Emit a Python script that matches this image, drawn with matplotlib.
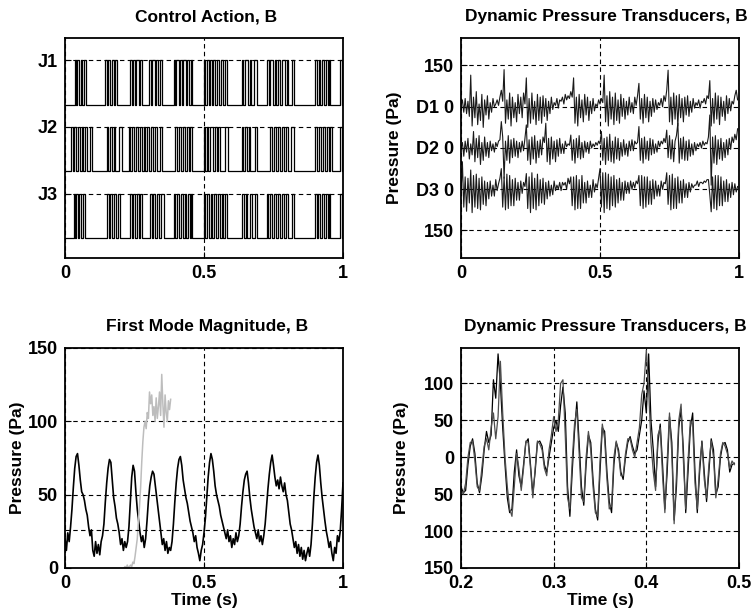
import matplotlib
matplotlib.use("Agg")
import matplotlib.pyplot as plt
import numpy as np

plt.rcParams["font.family"] = ["Liberation Sans", "DejaVu Sans"]
plt.rcParams["font.weight"] = "bold"
plt.rcParams["axes.titleweight"] = "bold"
plt.rcParams["axes.labelweight"] = "bold"

FS_TITLE = 12.5
FS_TICK = 13
FS_LABEL = 12.5

# ---------------------------------------------------------------- data
# Control action: on-intervals (s) of each actuator
J1_pulses = [(0.035, 0.040), (0.044, 0.052), (0.058, 0.062), (0.067, 0.075),
             (0.145, 0.150), (0.156, 0.163), (0.170, 0.176), (0.181, 0.187),
             (0.235, 0.241), (0.246, 0.250), (0.257, 0.265), (0.271, 0.277),
             (0.303, 0.309), (0.314, 0.322), (0.328, 0.333), (0.341, 0.349),
             (0.391, 0.396), (0.401, 0.410), (0.415, 0.420), (0.426, 0.434), (0.440, 0.446), (0.452, 0.457),
             (0.499, 0.505), (0.510, 0.518), (0.523, 0.528), (0.534, 0.541), (0.548, 0.553), (0.560, 0.567), (0.576, 0.583),
             (0.637, 0.642), (0.648, 0.657), (0.664, 0.669), (0.680, 0.691),
             (0.727, 0.733), (0.739, 0.748), (0.754, 0.760), (0.767, 0.773), (0.780, 0.790), (0.797, 0.803), (0.816, 0.823),
             (0.900, 0.906), (0.912, 0.918), (0.925, 0.932), (0.940, 0.946), (0.950, 0.954),
             (0.990, 0.996)]
J2_pulses = [(0.023, 0.029), (0.034, 0.040), (0.046, 0.055), (0.061, 0.066), (0.072, 0.078), (0.090, 0.097),
             (0.151, 0.156), (0.162, 0.170), (0.176, 0.181), (0.193, 0.205),
             (0.229, 0.234), (0.240, 0.248), (0.255, 0.262), (0.268, 0.277),
             (0.283, 0.289), (0.295, 0.302), (0.308, 0.318), (0.325, 0.331), (0.340, 0.349),
             (0.397, 0.403), (0.409, 0.416), (0.424, 0.431), (0.440, 0.446), (0.451, 0.457),
             (0.499, 0.505), (0.510, 0.516), (0.522, 0.531), (0.540, 0.546), (0.552, 0.559), (0.575, 0.588),
             (0.637, 0.641), (0.647, 0.655), (0.661, 0.667), (0.683, 0.691),
             (0.739, 0.745), (0.752, 0.759), (0.766, 0.772), (0.780, 0.788), (0.795, 0.801), (0.814, 0.823),
             (0.900, 0.905), (0.915, 0.922), (0.929, 0.936), (0.944, 0.951), (0.955, 0.960),
             (0.990, 0.997)]
J3_pulses = [(0.031, 0.036), (0.041, 0.047), (0.052, 0.058), (0.064, 0.071),
             (0.151, 0.157), (0.162, 0.168), (0.175, 0.182), (0.190, 0.199),
             (0.235, 0.240), (0.246, 0.253), (0.260, 0.266), (0.271, 0.277),
             (0.307, 0.312), (0.318, 0.325), (0.332, 0.338), (0.346, 0.355),
             (0.391, 0.397), (0.403, 0.409), (0.416, 0.424), (0.431, 0.437), (0.444, 0.450), (0.453, 0.457),
             (0.499, 0.504), (0.509, 0.517), (0.524, 0.529), (0.536, 0.543), (0.550, 0.556), (0.563, 0.569), (0.577, 0.583),
             (0.637, 0.643), (0.650, 0.656), (0.664, 0.672), (0.684, 0.691),
             (0.727, 0.732), (0.738, 0.746), (0.752, 0.758), (0.765, 0.774), (0.781, 0.788), (0.795, 0.801), (0.816, 0.823),
             (0.900, 0.905), (0.911, 0.919), (0.926, 0.932), (0.938, 0.946), (0.949, 0.954),
             (0.990, 0.996)]
J_labels = ["J3", "J2", "J1"]

# Dynamic pressure transducers, full second (Pa), sampled every 5 ms
D_dt = 0.005
D1 = [5, 25, -20, 30, -25, 20, -35, 115, -70, 35, -40, 55, -65, 10, -50, 45, -75, 25, -30, 40,
      -45, 15, -20, 30, 0, 10, 25, 5, 35, 60, 20, 135, -60, 25, -45, 50, -70, 35, -40, 15,
      -55, 45, -25, 35, -40, 50, 10, 105, -75, 30, -60, 50, -45, 20, -65, 45, -50, 35, -60, 40,
      -35, 30, -50, 20, -25, 35, -10, 15, 5, 30, -5, 25, 20, 35, 10, 45, 25, 40, 30, 55,
      35, 105, -60, 35, -70, 45, -40, 25, -55, 45, -30, 35, -50, 20, -25, 30, -15, 10, 0, 25,
      10, 30, 15, 115, -55, 40, -70, 55, -45, 35, -65, 50, -50, 25, -60, 45, -35, 30, -45, 20,
      -30, 35, -20, 15, -25, 35, 5, 40, 85, -45, 30, -60, 45, -40, 35, -55, 20, -35, 30, -20,
      25, -10, 15, 5, 30, 0, 40, 20, 60, 133, -55, 35, -65, 50, -45, 40, -70, 45, -40, 30,
      -55, 35, -30, 40, -35, 20, -20, 30, -5, 15, 5, 25, -5, 20, 15, 30, 10, 40, 30, 95,
      -70, 30, -60, 50, -45, 40, -65, 35, -35, 20, -50, 40, -25, 30, -15, 20, 10, 40, 60, 25]
D2 = [0, 20, -30, 25, -15, 35, -40, 15, -25, 60, -50, 35, -35, 45, -60, 20, -45, 40, -30, 20,
      -35, 25, -10, 15, -15, 20, 5, 25, 30, 96, 40, -110, 25, -45, 45, -55, 30, -35, 35, -30,
      25, -35, 20, -15, 25, -10, 35, 84, -45, 30, -60, 40, -40, 45, -55, 25, -35, 30, -25, 40,
      20, 90, -50, 35, -60, 40, -40, 25, -50, 30, -30, 35, -20, 15, -20, 25, 5, 15, 10, 47,
      -45, 30, -55, 35, -35, 45, -40, 20, -35, 25, -15, 20, -20, 25, 0, 15, 5, 20, 10, 25,
      15, 60, -45, 35, -60, 40, -45, 50, -50, 25, -55, 40, -40, 35, -45, 20, -30, 30, -25, 15,
      -30, 25, -10, 30, -10, 25, 15, 20, 78, -45, 35, -55, 40, -40, 25, -45, 35, -25, 30, -20,
      15, -15, 25, 5, 25, 15, 35, 20, 65, -35, 45, -40, 30, -50, 25, 45, 90, -55, 35, -40,
      40, -45, 25, -45, 30, -30, 15, -25, 20, -10, 15, 5, 20, 0, 25, 10, 20, 15, 40, 120,
      -135, 40, -55, 45, -60, 30, -40, 35, -45, 20, -35, 30, -25, 35, -5, 40, 20, 50, 30, 70]
D3 = [-20, 100, -65, 45, -80, 40, -50, 70, -85, 50, -65, 55, -70, 40, -75, 45, -55, 30, -60, 25,
      -35, 30, -25, 15, -25, 35, -5, 20, 40, 75, -65, 45, -75, 55, -70, 50, -60, 35, -60, 40,
      -40, 25, -40, 30, -15, 25, 10, 57, -70, 45, -85, 60, -70, 40, -75, 55, -60, 35, -50, 40,
      -55, 25, -35, 30, -25, 15, -20, 30, -5, 15, 0, 25, -5, 25, 15, 25, 0, 40, 20, 45,
      -60, 45, -75, 50, -70, 35, -70, 50, -50, 25, -50, 30, -30, 15, -30, 35, -10, 20, 5, 40,
      75, -65, 60, -85, 60, -70, 55, -75, 45, -60, 50, -65, 35, -50, 40, -40, 25, -40, 30, -15,
      25, -15, 30, 0, 25, 5, 30, 20, 50, -60, 50, -70, 45, -65, 45, -55, 30, -55, 35, -35,
      30, -25, 15, -25, 30, 0, 25, 20, 60, -55, 50, -75, 55, -70, 40, -70, 45, -50, 30, -50,
      35, -30, 20, -30, 25, -10, 20, 5, 15, 15, 30, 10, 25, 25, 20, 30, 25, 35, 35, -20,
      -82, 45, -70, 50, -75, 50, -60, 45, -60, 30, -45, 35, -45, 20, -30, 25, -20, 20, -10, 10]
D_offsets = [150, 0, -150]
D_labels = ["150", "D3 0", "D2 0", "D1 0", "150"]

# First mode magnitude (Pa), sampled every 5 ms
M_dt = 0.005
mode_mag = [20, 12, 24, 18, 28, 40, 55, 68, 76, 78, 70, 60, 52, 50, 46, 40, 36, 28, 22, 26,
            12, 8, 18, 10, 16, 9, 18, 22, 30, 45, 58, 68, 74, 72, 60, 48, 42, 34, 30, 24,
            16, 20, 12, 18, 14, 18, 28, 45, 62, 70, 66, 52, 40, 32, 24, 18, 22, 14, 20, 32,
            46, 56, 62, 66, 64, 56, 48, 40, 32, 24, 16, 20, 12, 18, 10, 14, 12, 18, 30, 45,
            58, 68, 74, 76, 70, 60, 54, 48, 44, 38, 32, 28, 24, 18, 22, 14, 10, 5, 12, 16,
            24, 34, 48, 62, 72, 78, 74, 66, 56, 50, 46, 42, 36, 32, 28, 24, 20, 26, 18, 22,
            14, 20, 16, 24, 18, 22, 30, 42, 52, 60, 64, 66, 58, 48, 40, 34, 28, 24, 20, 26,
            18, 22, 16, 22, 30, 42, 54, 64, 72, 77, 70, 62, 56, 60, 54, 62, 56, 52, 58, 50,
            46, 38, 30, 26, 20, 14, 18, 10, 16, 8, 14, 6, 12, 5, 10, 14, 8, 16, 30, 48,
            62, 72, 77, 70, 58, 48, 40, 32, 25, 20, 14, 18, 10, 5, 14, 10, 22, 18, 25, 40,
            58]
# Open-loop growth segment (Pa), sampled every 4 ms from 0.212 s
G_t0, G_dt = 0.212, 0.004
growth = [0, 1, 0, 2, 0, 1, 2, 1, 4, 3, 8, 14, 20, 32, 42, 55, 72, 86, 96, 100,
          95, 106, 102, 120, 112, 118, 104, 110, 100, 116, 102, 110, 120, 104, 132, 112, 96, 118, 106, 100,
          114, 108, 115]
M_threshold = 26

# Zoomed transducer traces (Pa), sampled every 2.5 ms from 0.2 s
Z_t0, Z_dt = 0.2, 0.0025
zoom_a = [-40, -48, -45, -10, 15, 25, 5, -35, -48, -25, 10, 35, 20, 30, 105, 80, 140, 100, 40, -10,
          -55, -75, -70, -20, 10, -25, -40, -10, 20, 25, -10, -50, -20, 20, 22, 15, -10, -20, 0, 20,
          40, 50, 35, 70, 95, 60, -40, -80, -20, 35, 75, 20, -40, -65, -10, 30, 20, -30, -70, -85,
          -20, 40, 35, -20, -60, -75, -10, 20, 10, -20, -30, 0, 20, 28, 15, 5, 10, 30, 50, 90,
          60, 140, 50, 10, -40, 20, 45, -10, -70, -20, 55, 20, -85, -40, 40, 65, 10, -75, -20, 40,
          60, -20, -75, -20, 22, -20, -60, -20, 25, 10, -50, -40, 0, 18, 20, 10, -20, -10, -8]
zoom_b = [-45, -50, -35, 0, 20, 22, -5, -40, -45, -15, 15, 25, 10, 40, 60, 25, 55, 130, 60, 0,
          -40, -70, -80, -40, 5, -15, -45, -15, 22, 20, -15, -55, -15, 22, 18, 10, -15, -25, 10, 30,
          55, 35, 50, 100, 105, 30, -55, -70, -5, 45, 65, 5, -55, -60, 0, 35, 10, -40, -75, -80,
          -5, 45, 25, -30, -70, -65, 0, 22, 5, -25, -25, 5, 25, 25, 10, 0, 20, 40, 85, 100,
          145, 90, 20, -20, -45, 30, 40, -25, -75, -5, 60, 5, -90, -25, 50, 72, -5, -70, -5, 50,
          45, -35, -70, -10, 20, -30, -55, -10, 22, 0, -55, -30, 5, 20, 15, 5, -15, -5, -10]

# ---------------------------------------------------------------- helpers
GRID = dict(color="black", linestyle=(0, (4, 3)), linewidth=0.8)


def pulse_wave(pulses, t_end=1.0):
    t, y = [0.0], [0.0]
    for a, b in pulses:
        t += [a, a, b, b]
        y += [0.0, 1.0, 1.0, 0.0]
    t.append(t_end)
    y.append(0.0)
    return np.array(t), np.array(y)


def style(ax):
    for s in ax.spines.values():
        s.set_linewidth(1.3)
    ax.tick_params(direction="in", length=4, width=0.8, labelsize=FS_TICK, pad=5,
                   top=False, right=False)
    for lab in ax.get_xticklabels() + ax.get_yticklabels():
        lab.set_fontweight("bold")


fig = plt.figure(figsize=(7.52, 6.16), dpi=100)
W, H = 752.0, 616.0


def add_axes(l, t, r, b):
    return fig.add_axes([l / W, 1 - b / H, (r - l) / W, (b - t) / H])


ax_tl = add_axes(65, 38, 343, 258)
ax_tr = add_axes(461, 38, 739, 258)
ax_bl = add_axes(65, 348, 343, 568)
ax_br = add_axes(461, 348, 739, 568)

# ---------------------------------------------------------------- control action
bases = [3.0, 1.5, 0.0]
for pulses, base in zip([J1_pulses, J2_pulses, J3_pulses], bases):
    t, y = pulse_wave(pulses)
    ax_tl.plot(t, y + base, color="black", linewidth=0.9)
ax_tl.set_xlim(0, 1)
ax_tl.set_ylim(-0.45, 4.5)
ax_tl.set_yticks([b + 1 for b in bases[::-1]])
ax_tl.set_yticklabels(J_labels)
ax_tl.set_xticks([0, 0.5, 1])
ax_tl.set_xticklabels(["0", "0.5", "1"])
ax_tl.grid(True, **GRID)
ax_tl.set_title("Control Action, B", fontsize=FS_TITLE, fontweight="bold", pad=12, x=0.509)
style(ax_tl)

# ---------------------------------------------------------------- transducers, full record
for trace, off in zip([D1, D2, D3], D_offsets):
    v = np.asarray(trace, dtype=float)
    t = np.arange(len(v)) * D_dt
    ax_tr.plot(t, v + off, color="#1a1a1a", linewidth=0.8)
ax_tr.set_xlim(0, 1)
ax_tr.set_ylim(-400, 400)
ax_tr.set_yticks([-300, -150, 0, 150, 300])
ax_tr.set_yticklabels(D_labels)
ax_tr.set_xticks([0, 0.5, 1])
ax_tr.set_xticklabels(["0", "0.5", "1"])
ax_tr.grid(True, **GRID)
ax_tr.set_title("Dynamic Pressure Transducers, B", fontsize=FS_TITLE, fontweight="bold", pad=12, x=0.524)
ax_tr.set_ylabel("Pressure (Pa)", fontsize=FS_LABEL, fontweight="bold")
ax_tr.yaxis.set_label_coords(-0.212, 0.5)
style(ax_tr)

# ---------------------------------------------------------------- first mode magnitude
mv = np.asarray(mode_mag, dtype=float)
ax_bl.plot(np.arange(len(mv)) * M_dt, mv, color="black", linewidth=1.2)
gv = np.asarray(growth, dtype=float)
ax_bl.plot(G_t0 + np.arange(len(gv)) * G_dt, gv, color="#bdbdbd", linewidth=1.1)
ax_bl.axhline(M_threshold, **GRID)
ax_bl.set_xlim(0, 1)
ax_bl.set_ylim(0, 150)
ax_bl.set_yticks([0, 50, 100, 150])
ax_bl.set_yticklabels(["0", "50", "100", "150"])
ax_bl.set_xticks([0, 0.5, 1])
ax_bl.set_xticklabels(["0", "0.5", "1"])
ax_bl.grid(True, **GRID)
ax_bl.set_title("First Mode Magnitude, B", fontsize=FS_TITLE, fontweight="bold", pad=12, x=0.511)
ax_bl.set_ylabel("Pressure (Pa)", fontsize=FS_LABEL, fontweight="bold")
ax_bl.yaxis.set_label_coords(-0.144, 0.5)
ax_bl.set_xlabel("Time (s)", fontsize=FS_LABEL, fontweight="bold")
ax_bl.xaxis.set_label_coords(0.5, -0.115)
style(ax_bl)

# ---------------------------------------------------------------- transducers, zoomed
for trace, col in zip([zoom_a, zoom_b], ["black", "#4d4d4d"]):
    v = np.asarray(trace, dtype=float)
    ax_br.plot(Z_t0 + np.arange(len(v)) * Z_dt, v, color=col, linewidth=0.9)
ax_br.set_xlim(0.2, 0.5)
ax_br.set_ylim(-150, 148)
ax_br.set_yticks([-150, -100, -50, 0, 50, 100])
ax_br.set_yticklabels(["150", "100", "50", "0", "50", "100"])
ax_br.set_xticks([0.2, 0.3, 0.4, 0.5])
ax_br.set_xticklabels(["0.2", "0.3", "0.4", "0.5"])
ax_br.grid(True, **GRID)
ax_br.set_title("Dynamic Pressure Transducers, B", fontsize=FS_TITLE, fontweight="bold", pad=12, x=0.520)
ax_br.set_ylabel("Pressure (Pa)", fontsize=FS_LABEL, fontweight="bold")
ax_br.yaxis.set_label_coords(-0.186, 0.5)
ax_br.set_xlabel("Time (s)", fontsize=FS_LABEL, fontweight="bold")
ax_br.xaxis.set_label_coords(0.5, -0.115)
style(ax_br)

fig.savefig("out.png", dpi=100)
